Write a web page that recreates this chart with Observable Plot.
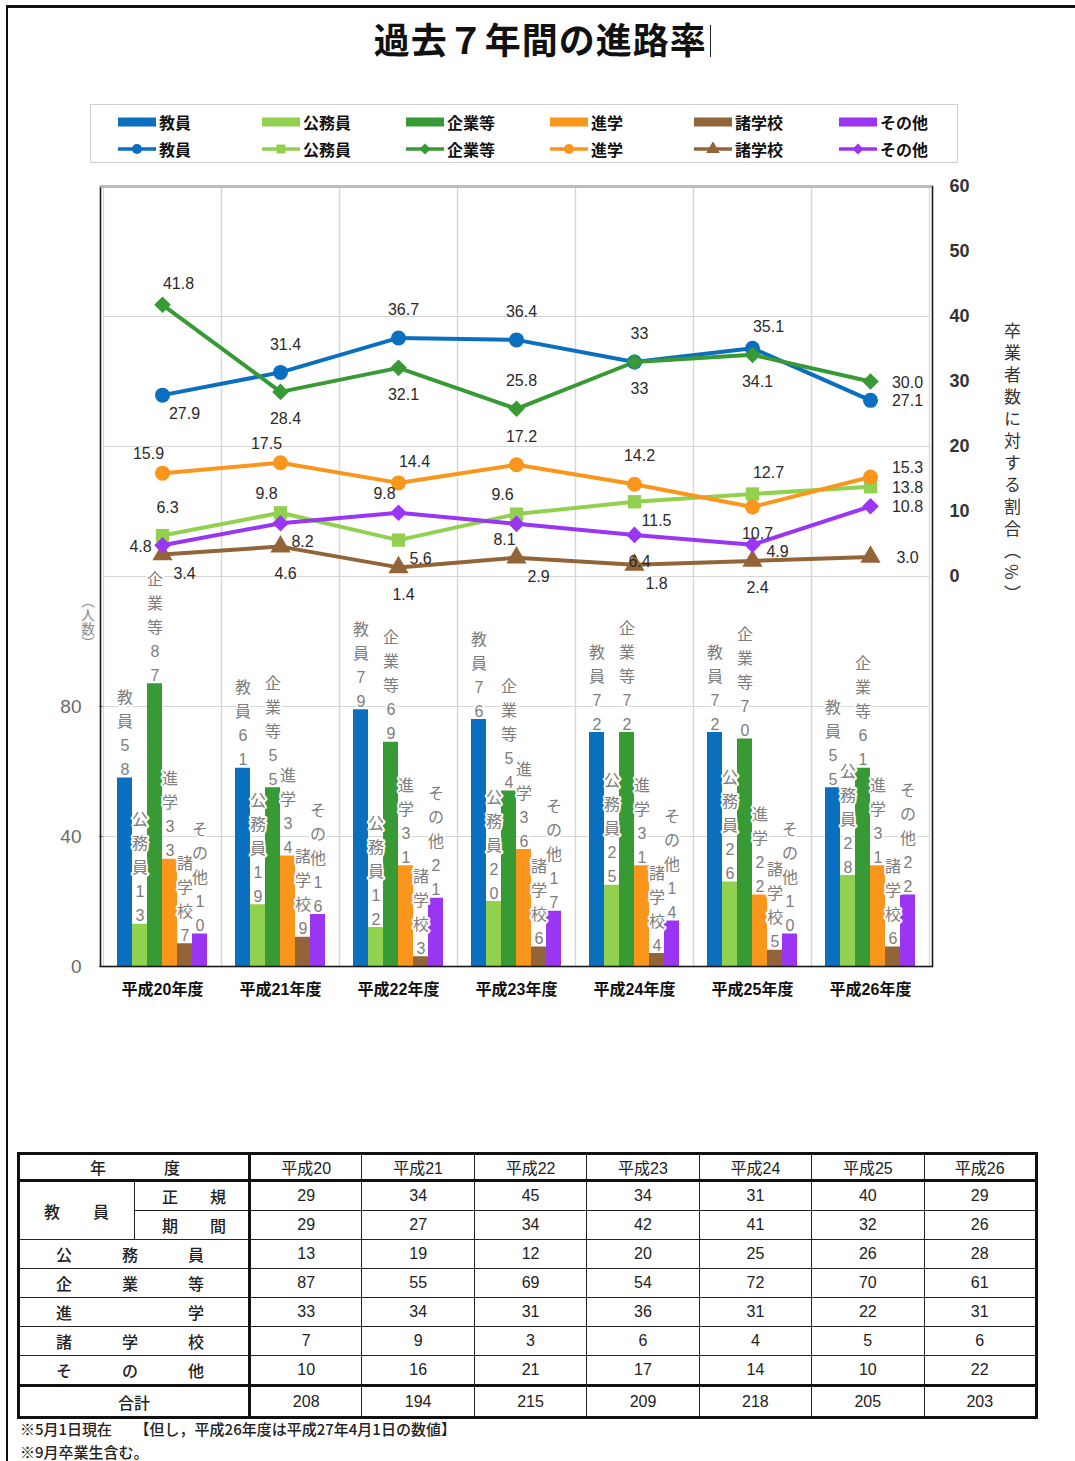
<!DOCTYPE html>
<html><head><meta charset="utf-8">
<script src="https://cdn.jsdelivr.net/npm/d3@7"></script>
<script src="https://cdn.jsdelivr.net/npm/@observablehq/plot@0.6"></script>
<style>
  body{margin:0;background:#fff;font-family:"Liberation Sans","Noto Sans CJK JP",sans-serif;}
  #page{position:relative;width:1075px;height:1461px;overflow:hidden;background:#fff;}
  .abs{position:absolute;}
  #title{left:0;width:1085px;top:12px;text-align:center;font-size:36px;font-weight:700;color:#111;font-family:"Noto Sans CJK JP",sans-serif;letter-spacing:1px;}
  #legend{left:90px;top:104px;width:866px;height:57px;border:1px solid #cfcfcf;}
  .lg{position:absolute;display:flex;align-items:center;font-size:16px;font-weight:700;color:#111;font-family:"Noto Sans CJK JP",sans-serif;}
  .lg svg{margin-right:3px;}
  .vl{writing-mode:vertical-rl;font-family:"Noto Sans CJK JP",sans-serif;}
  table{position:absolute;left:17px;top:1152px;border-collapse:collapse;border:3px solid #111;table-layout:fixed;width:1021px;font-family:"Liberation Sans","Noto Sans CJK JP",sans-serif;}
  td{border:1.5px solid #222;font-size:16px;color:#222;text-align:center;padding:0;height:28px;}
  tr.hd td{height:23px;border-bottom:3px solid #111;}
  tr.tot td{border-top:3px solid #111;height:29px;}
  td.lab{border-right:3px solid #111;}
  .just{display:flex;justify-content:space-between;font-family:"Noto Sans CJK JP",sans-serif;font-weight:500;}
  #notes{left:20px;top:1417px;font-size:15px;line-height:23px;color:#222;font-family:"Noto Sans CJK JP",sans-serif;font-weight:500;}
</style>
</head><body>
<div id="page">
  <div id="title" class="abs">過去７年間の進路率<span style="display:inline-block;width:1.5px;height:32px;background:#222;margin-left:3px;vertical-align:-3px"></span></div>
  <div id="legend" class="abs"></div>
  <div id="chartA" class="abs" style="left:0;top:170px"></div>
  <div id="chartB" class="abs" style="left:0;top:170px"></div>
  <div class="abs vl" style="left:78px;top:594px;font-size:14px;color:#8a8a8a;">（人数）</div>
  <div class="abs vl" style="left:1000px;top:322px;font-size:17px;color:#333;letter-spacing:5px;">卒業者数に対する割合（%）</div>
  <table id="tbl"></table>
  <div id="notes" class="abs">※5月1日現在　　【但し，平成26年度は平成27年4月1日の数値】<br>※9月卒業生含む。</div>
  <div class="abs" style="left:6px;top:5px;width:2px;height:1456px;background:#111"></div>
  <div class="abs" style="left:6px;top:5px;width:1069px;height:3px;background:#111"></div>
</div>
<script>
// ---------- data ----------
const years = ["平成20年度","平成21年度","平成22年度","平成23年度","平成24年度","平成25年度","平成26年度"];
const tableYears = ["平成20","平成21","平成22","平成23","平成24","平成25","平成26"];
const categories = ["教員","公務員","企業等","進学","諸学校","その他"];

// counts (people) from the table
const teacherRegular = [29,34,45,34,31,40,29];
const teacherTerm    = [29,27,34,42,41,32,26];
const publicServant  = [13,19,12,20,25,26,28];
const companies      = [87,55,69,54,72,70,61];
const furtherStudy   = [33,34,31,36,31,22,31];
const otherSchools   = [7,9,3,6,4,5,6];
const others         = [10,16,21,17,14,10,22];
const totals         = [208,194,215,209,218,205,203];

// rates (% of graduates)
const rateTeacher = [27.9,31.4,36.7,36.4,33,35.1,27.1];
const ratePublic  = [6.3,9.8,5.6,9.6,11.5,12.7,13.8];
const rateCompany = [41.8,28.4,32.1,25.8,33,34.1,30.0];
const rateStudy   = [15.9,17.5,14.4,17.2,14.2,10.7,15.3];
const rateSchool  = [3.4,4.6,1.4,2.9,1.8,2.4,3.0];
const rateOther   = [4.8,8.2,9.8,8.1,6.4,4.9,10.8];

// label placement codes for the rate labels
const posTeacher = ["se","n","n","n","n","ne","e"];
const posPublic  = ["n","nw","se","nw","se","ne","e"];
const posCompany = ["ne","s","s","n","s","s","e"];
const posStudy   = ["nw","nw","ne","n","n","s","en"];
const posSchool  = ["se","s","s","se","se","s","e"];
const posOther   = ["w","se","nw","sw","s","ee","e"];

// ---------- styles ----------
const colors = ["#0b6fc0","#92d050","#379a35","#f9961b","#936438","#9b35f4"];
const symbols = ["circle","square","diamond2","circle","triangle","diamond2"];
const offsets = {n:[5,-28], s:[5,27], ne:[16,-21], nw:[-14,-19], se:[22,19], sw:[-12,16], w:[-22,2], e:[37,1], en:[37,-9], ee:[25,7]};
const font = '"Liberation Sans","Noto Sans CJK JP",sans-serif';

const teachers = teacherRegular.map((v,i)=>v+teacherTerm[i]);
const barSeries = [teachers, publicServant, companies, furtherStudy, otherSchools, others];
const rateSeries = [rateTeacher, ratePublic, rateCompany, rateStudy, rateSchool, rateOther];
const posSeries = [posTeacher, posPublic, posCompany, posStudy, posSchool, posOther];

const barData = [];
const rateData = [];
categories.forEach((c,j)=> years.forEach((yr,i)=>{
  barData.push({year:yr, cat:c, value:barSeries[j][i]});
  rateData.push({year:yr, cat:c, rate:rateSeries[j][i], pos:posSeries[j][i], last:i===years.length-1});
}));

// right (rate) axis -60..60 is overlaid on the left (count) axis 0..240
const toY = r => (r + 60) * 2;

const W = 1075, H = 830, M = {top:16, bottom:34, left:100, right:143};

// ---------- chart A: bars, grid, left axis, categories ----------
const chartA = Plot.plot({
  width: W, height: H,
  marginTop: M.top, marginBottom: M.bottom, marginLeft: M.left, marginRight: M.right,
  style: {fontFamily: font, background: "transparent"},
  fx: {domain: years, padding: 0, label: null},
  x: {domain: categories, paddingInner: 0, paddingOuter: 0.72, axis: null},
  y: {domain: [0, 240]},
  color: {domain: categories, range: colors},
  marks: [
    Plot.ruleY(d3.range(0, 241, 40), {stroke: "#d6d6d6", strokeWidth: 1.2}),
    Plot.frame({stroke: "#d6d6d6", strokeWidth: 1.2}),
    Plot.barY(barData, {fx: "year", x: "cat", y: "value", fill: "cat"}),
    Plot.text(barData, {
      fx: "year", x: "cat", y: "value",
      text: d => [...d.cat, ...String(d.value)].join("\n"),
      lineAnchor: "bottom", dy: -3, lineHeight: 1.5,
      fontSize: 16, fill: "#7d7d7d", stroke: "white", strokeWidth: 4
    }),
    Plot.axisY([0, 40, 80], {anchor: "left", tickSize: 4, tickPadding: 18, fontSize: 19, color: "#6a6a6a", label: null}),
    Plot.axisFx({anchor: "bottom", tickSize: 0, tickPadding: 17, fontSize: 16, fontWeight: "bold", label: null, fill: "#111"})
  ]
});
document.getElementById("chartA").append(chartA);

// ---------- chart B: rate lines, right axis ----------
const labelMarks = Object.entries(offsets).map(([code,[dx,dy]]) =>
  Plot.text(rateData.filter(d => d.pos === code), {
    x: "year", y: d => toY(d.rate),
    text: d => d.last ? d.rate.toFixed(1) : String(d.rate),
    dx, dy, fontSize: 16, fill: "#2a2a2a"
  })
);
const chartB = Plot.plot({
  width: W, height: H,
  marginTop: M.top, marginBottom: M.bottom, marginLeft: M.left, marginRight: M.right,
  style: {fontFamily: font, background: "transparent"},
  x: {type: "band", domain: years, padding: 0, axis: null},
  y: {domain: [0, 240], axis: null},
  color: {domain: categories, range: colors},
  symbol: {domain: categories, range: symbols},
  marks: [
    Plot.frame({stroke: "#1a1a1a", strokeWidth: 1.6}),
    Plot.ruleY([240], {stroke: "#bdbdbd", strokeWidth: 2}),
    Plot.axisY(d3.range(0, 61, 10).map(toY), {
      anchor: "right", tickSize: 0, tickPadding: 17, fontSize: 18, fontWeight: "bold",
      fill: "#333", tickFormat: d => d / 2 - 60, label: null
    }),
    Plot.line(rateData, {x: "year", y: d => toY(d.rate), z: "cat", stroke: "cat", strokeWidth: 4}),
    Plot.dot(rateData, {x: "year", y: d => toY(d.rate), symbol: "cat", fill: "cat", r: 7.5}),
    ...labelMarks
  ]
});
document.getElementById("chartB").append(chartB);

// ---------- legend ----------
const legend = document.getElementById("legend");
const colLeft = [27, 171, 315, 459, 603, 748];
categories.forEach((c,j)=>{
  const a = document.createElement("div");
  a.className = "lg"; a.style.left = colLeft[j] + "px"; a.style.top = "5px";
  a.innerHTML = `<svg width="38" height="10"><rect width="38" height="9" y="0.5" fill="${colors[j]}"/></svg>${c}`;
  legend.append(a);
  const symType = {circle: d3.symbolCircle, square: d3.symbolSquare, diamond2: d3.symbolDiamond2, triangle: d3.symbolTriangle}[symbols[j]];
  const p = d3.symbol(symType, 80)();
  const b = document.createElement("div");
  b.className = "lg"; b.style.left = colLeft[j] + "px"; b.style.top = "32px";
  b.innerHTML = `<svg width="38" height="14"><line x1="0" x2="38" y1="7" y2="7" stroke="${colors[j]}" stroke-width="3.5"/><path d="${p}" transform="translate(19,7)" fill="${colors[j]}"/></svg>${c}`;
  legend.append(b);
});

// ---------- table ----------
const tbl = document.getElementById("tbl");
const just = (chars, pl, pr) => `<div class="just" style="padding:0 ${pr}px 0 ${pl}px">${chars.map(ch=>`<span>${ch}</span>`).join("")}</div>`;
let html = `<colgroup><col style="width:116px"><col style="width:115px">${tableYears.map(()=>'<col>').join("")}</colgroup>`;
html += `<tr class="hd"><td class="lab" colspan="2">${just(["年","度"],70,68)}</td>${tableYears.map(y=>`<td>${y}</td>`).join("")}</tr>`;
const rows = [
  {sub:["正","規"], vals:teacherRegular},
  {sub:["期","間"], vals:teacherTerm},
  {label:["公","務","員"], vals:publicServant},
  {label:["企","業","等"], vals:companies},
  {label:["進","学"], vals:furtherStudy},
  {label:["諸","学","校"], vals:otherSchools},
  {label:["そ","の","他"], vals:others},
];
rows.forEach((r,i)=>{
  html += "<tr>";
  if (r.sub) {
    if (i === 0) html += `<td rowspan="2">${just(["教","員"],24,25)}</td>`;
    html += `<td class="lab">${just(r.sub,27,22)}</td>`;
  } else {
    html += `<td class="lab" colspan="2">${just(r.label,36,44)}</td>`;
  }
  html += r.vals.map(v=>`<td>${v}</td>`).join("") + "</tr>";
});
html += `<tr class="tot"><td class="lab" colspan="2"><span style="font-family:'Noto Sans CJK JP';font-weight:500">合計</span></td>${totals.map(v=>`<td>${v}</td>`).join("")}</tr>`;
tbl.innerHTML = html;
</script>
</body></html>
